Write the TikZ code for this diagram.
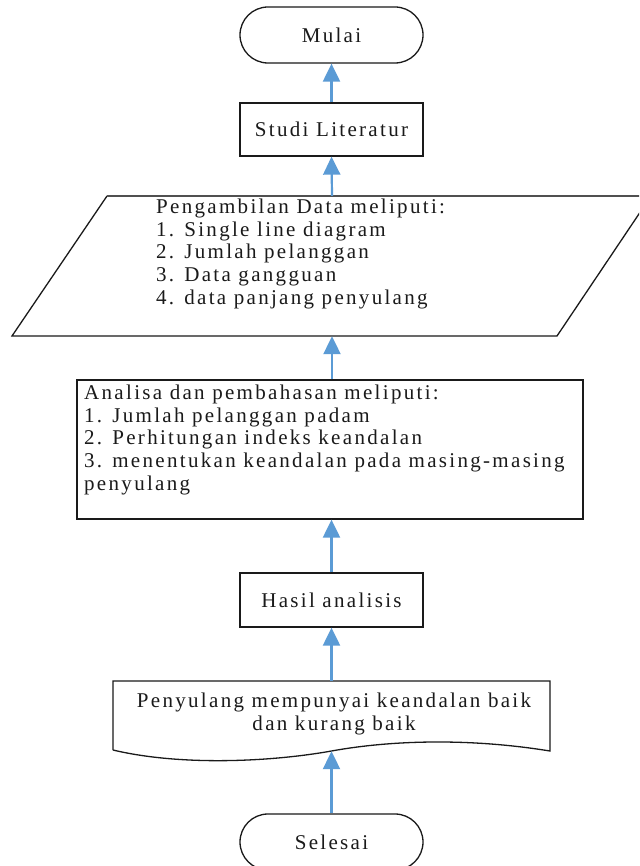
\documentclass[tikz,border=0pt]{standalone}
\usepackage{fontspec}
\setmainfont{Liberation Serif}[LetterSpace=11]
\usetikzlibrary{arrows.meta}
\definecolor{arrblue}{HTML}{5B9BD5}
\definecolor{ink}{HTML}{1A1A1A}
\definecolor{topgray}{HTML}{505050}
\begin{document}
\begin{tikzpicture}[x=1pt,y=-1pt,
  every node/.style={font=\fontsize{21}{22.7}\selectfont, text=ink},
  box/.style={draw=ink, line width=1.3pt, minimum width=183pt, inner sep=0pt},
  term/.style={box, rounded corners=28pt, minimum height=56pt},
  ghost/.style={inner sep=0pt, minimum width=1pt},
  txt/.style={inner sep=0pt, align=left},
  outline/.style={draw=ink, line width=1.3pt},
  arr/.style={draw=arrblue, line width=2.2pt, -{Triangle[length=18pt,width=17pt]}}]
\useasboundingbox (0,0) rectangle (639,866);
\clip (0,0) rectangle (639,866);
\fill[white] (0,0) rectangle (639,866);

% Start
\node[term] (mulai) at (331.5,35) {Mulai};
% Studi literatur
\node[box, minimum height=53pt] (studi) at (331.5,129.5) {Studi Literatur};

% Data (parallelogram)
\node[ghost, minimum height=140pt] (para) at (332,266) {};
\draw[outline, line join=miter] (107,196) -- (12,336) -- (557,336) -- (651,196);
\draw[draw=topgray, line width=2pt] (107,196) -- (651,196);
\node[txt, anchor=north west] (paratext) at (156,198.7)
  {Pengambilan Data meliputi:\\
   1. Single line diagram\\
   2. Jumlah pelanggan\\
   3. Data gangguan\\
   4. data panjang penyulang};

% Analysis box
\node[box, minimum width=506pt, minimum height=139pt] (analisa) at (330,449.5) {};
\node[txt, anchor=north west] (analisatext) at (84,384.7)
  {Analisa dan pembahasan meliputi:\\
   1. Jumlah pelanggan padam\\
   2. Perhitungan indeks keandalan\\
   3. menentukan keandalan pada masing-masing\\
   penyulang};

% Result
\node[box, minimum height=54pt] (hasil) at (331.5,600) {Hasil analisis};

% Document shape
\node[ghost, minimum width=437pt, minimum height=70pt] (doc) at (331.5,716) {};
\draw[outline, line join=miter] (113,750) -- (113,681) -- (550,681) -- (550,751)
  .. controls (470,738) and (392,740) .. (331.5,751)
  .. controls (270,762) and (180,766) .. (113,750);
\node[inner sep=0pt, align=center, anchor=north] (doctext) at (334,692.7)
  {Penyulang mempunyai keandalan baik\\dan kurang baik};

% End
\node[term] (selesai) at (331.5,842) {Selesai};

% Connectors (pointing upward)
\draw[arr] (studi.north) -- (mulai.south);
\draw[arr] (para.north) -- (studi.south);
\draw[arr] (analisa.north -| para.south) -- (para.south);
\draw[arr] (hasil.north) -- (hasil.north |- analisa.south);
\draw[arr] (doc.north) -- (hasil.south);
\draw[arr] (selesai.north) -- (doc.south);
\end{tikzpicture}
\end{document}
